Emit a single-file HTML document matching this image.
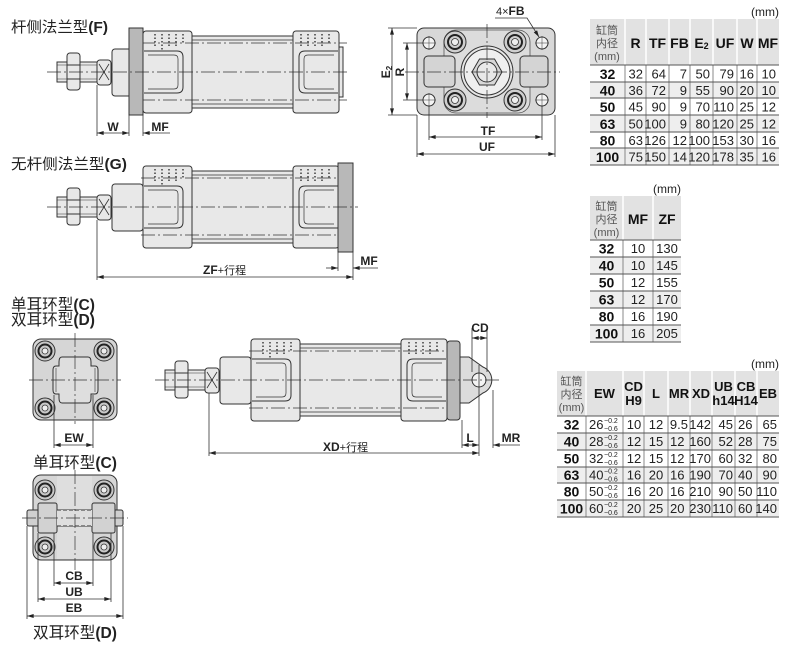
<!DOCTYPE html>
<html><head><meta charset="utf-8"><style>
html,body{margin:0;padding:0;background:#fff;}
svg{display:block;font-family:"Liberation Sans","Noto Sans CJK SC",sans-serif;}
</style></head><body>
<svg width="790" height="647" viewBox="0 0 790 647" xmlns="http://www.w3.org/2000/svg">
<defs>
<marker id="a" viewBox="0 0 10 6" refX="10" refY="3" markerWidth="7" markerHeight="4" orient="auto-start-reverse" markerUnits="userSpaceOnUse"><path d="M0,0 L10,3 L0,6 z" fill="#222"/></marker>
<g id="body" stroke="#333" stroke-width="1" fill="#e8e8e8">
  <rect x="49" y="-36" width="101" height="72"/>
  <line x1="49" y1="-32" x2="150" y2="-32" stroke-width=".7"/>
  <line x1="49" y1="32" x2="150" y2="32" stroke-width=".7"/>
  <rect x="-86" y="-10" width="42" height="20"/>
  <line x1="-86" y1="-7" x2="-46" y2="-7" stroke-width=".6"/>
  <line x1="-86" y1="7" x2="-46" y2="7" stroke-width=".6"/>
  <rect x="-76" y="-19" width="13" height="37" rx="3"/>
  <line x1="-76" y1="-7" x2="-63" y2="-7"/>
  <line x1="-76" y1="7" x2="-63" y2="7"/>
  <rect x="-46" y="-12" width="14" height="25" rx="3"/>
  <path d="M-44,-8 L-34,8 M-44,8 L-34,-8" fill="none" stroke-width=".8"/>
  <rect x="-31" y="-23" width="31" height="47" rx="3"/>
  <rect x="0" y="-41" width="49" height="82" rx="3"/>
  <path d="M1,-21 H34 Q40,-21 40,-15 V15 Q40,21 34,21 H1" fill="none"/>
  <path d="M5,-17 H31 Q35,-17 35,-13 V13 Q35,17 31,17 H5" fill="none" stroke-width=".7"/>
  <rect x="150" y="-41" width="46" height="82" rx="3"/>
  <path d="M195,-21 H162 Q156,-21 156,-15 V15 Q156,21 162,21 H195" fill="none"/>
  <path d="M191,-17 H165 Q161,-17 161,-13 V13 Q161,17 165,17 H191" fill="none" stroke-width=".7"/>
  <g stroke="#222" stroke-width="1.3" stroke-dasharray="1.5 2" fill="none">
    <line x1="12" y1="-38" x2="12" y2="-24"/><line x1="19" y1="-38" x2="19" y2="-22"/>
    <line x1="26" y1="-38" x2="26" y2="-24"/><line x1="33" y1="-38" x2="33" y2="-26"/>
    <line x1="40" y1="-38" x2="40" y2="-28"/>
    <line x1="158" y1="-38" x2="158" y2="-26"/><line x1="165" y1="-38" x2="165" y2="-24"/>
    <line x1="172" y1="-38" x2="172" y2="-24"/><line x1="179" y1="-38" x2="179" y2="-26"/>
    <line x1="186" y1="-38" x2="186" y2="-28"/>
  </g>
  <g stroke="#333" stroke-width=".7" stroke-dasharray="14 3 2 3" fill="none">
    <line x1="-2" y1="-29" x2="204" y2="-29"/>
    <line x1="-2" y1="28" x2="204" y2="28"/>
  </g>
</g>
</defs>

<!-- ============ F type side view ============ -->
<text x="11" y="32" font-size="15" fill="#222" textLength="97" lengthAdjust="spacingAndGlyphs">杆侧法兰型<tspan font-weight="bold">(F)</tspan></text>
<g transform="translate(143,72)">
  <use href="#body"/>
  <rect x="-14" y="-44" width="14" height="87" fill="#b8b8b8" stroke="#333"/>
  <rect x="196" y="-25" width="4" height="50" fill="#e8e8e8" stroke="#333"/>
  <line x1="-96" y1="0" x2="206" y2="0" stroke="#333" stroke-width=".7" stroke-dasharray="14 3 2 3"/>
</g>
<g stroke="#333" stroke-width=".8" fill="none">
  <line x1="97" y1="85" x2="97" y2="136"/>
  <line x1="129" y1="115" x2="129" y2="136"/>
  <line x1="143" y1="115" x2="143" y2="136"/>
  <line x1="97" y1="133" x2="129" y2="133" marker-start="url(#a)" marker-end="url(#a)"/>
  <line x1="143" y1="133" x2="170" y2="133" marker-start="url(#a)"/>
</g>
<text x="113" y="131" font-size="12" font-weight="bold" text-anchor="middle" fill="#222">W</text>
<text x="160" y="131" font-size="12" font-weight="bold" text-anchor="middle" fill="#222">MF</text>

<!-- ============ G type side view ============ -->
<text x="11" y="169" font-size="15" fill="#222" textLength="116" lengthAdjust="spacingAndGlyphs">无杆侧法兰型<tspan font-weight="bold">(G)</tspan></text>
<g transform="translate(143,207)">
  <use href="#body"/>
  <rect x="195" y="-44" width="15" height="89" fill="#b8b8b8" stroke="#333"/>
  <line x1="-96" y1="0" x2="215" y2="0" stroke="#333" stroke-width=".7" stroke-dasharray="14 3 2 3"/>
</g>
<g stroke="#333" stroke-width=".8" fill="none">
  <line x1="97" y1="220" x2="97" y2="280"/>
  <line x1="338" y1="252" x2="338" y2="271"/>
  <line x1="353" y1="252" x2="353" y2="280"/>
  <line x1="97" y1="277" x2="353" y2="277" marker-start="url(#a)" marker-end="url(#a)"/>
  <line x1="326" y1="268" x2="338" y2="268" marker-end="url(#a)"/>
  <line x1="353" y1="268" x2="378" y2="268" marker-start="url(#a)"/>
</g>
<text x="203" y="274" font-size="12" fill="#222"><tspan font-weight="bold">ZF</tspan><tspan font-size="11">+行程</tspan></text>
<text x="369" y="265" font-size="12" font-weight="bold" text-anchor="middle" fill="#222">MF</text>

<!-- ============ Flange front view ============ -->
<g stroke="#333" stroke-width="1">
  <rect x="417" y="28" width="138" height="87" rx="7" fill="#d8d8d8"/>
  <rect x="444" y="30" width="86" height="83" rx="12" fill="#dcdcdc" stroke="#555" stroke-width=".8"/>
  <rect x="424" y="56" width="31" height="31" rx="4" fill="#d4d4d4"/>
  <rect x="520" y="56" width="28" height="31" rx="4" fill="#d4d4d4"/>
  <circle cx="487" cy="72" r="26" fill="#e6e6e6"/>
  <circle cx="487" cy="72" r="23" fill="#efefef"/>
  <polygon points="502,72 494.5,85 479.5,85 472,72 479.5,59 494.5,59" fill="#d8d8d8"/>
  <circle cx="487" cy="72" r="10" fill="#e8e8e8"/>
  <g fill="#cfcfcf">
    <circle cx="455" cy="42" r="11"/><circle cx="515" cy="42" r="11"/>
    <circle cx="455" cy="100" r="11"/><circle cx="515" cy="100" r="11"/>
  </g>
  <g fill="none" stroke="#222" stroke-width="2">
    <circle cx="455" cy="42" r="7"/><circle cx="515" cy="42" r="7"/>
    <circle cx="455" cy="100" r="7"/><circle cx="515" cy="100" r="7"/>
  </g>
  <g fill="#eee" stroke-width=".8">
    <circle cx="455" cy="42" r="3.5"/><circle cx="515" cy="42" r="3.5"/>
    <circle cx="455" cy="100" r="3.5"/><circle cx="515" cy="100" r="3.5"/>
  </g>
  <g fill="#f4f4f4">
    <circle cx="429" cy="43" r="6"/><circle cx="542" cy="43" r="6"/>
    <circle cx="429" cy="100" r="6"/><circle cx="542" cy="100" r="6"/>
  </g>
</g>
<g stroke="#333" stroke-width=".7" fill="none">
  <line x1="405" y1="72" x2="560" y2="72" stroke-dasharray="14 3 2 3"/>
  <line x1="487" y1="24" x2="487" y2="118" stroke-dasharray="14 3 2 3"/>
  <path d="M422,43 H436 M429,36 V50 M535,43 H549 M542,36 V50 M422,100 H436 M429,93 V107 M535,100 H549 M542,93 V107" stroke-width=".5"/>
</g>
<g stroke="#333" stroke-width=".8" fill="none">
  <line x1="388" y1="28" x2="417" y2="28"/>
  <line x1="388" y1="115" x2="417" y2="115"/>
  <line x1="403" y1="43" x2="423" y2="43"/>
  <line x1="403" y1="100" x2="423" y2="100"/>
  <line x1="392" y1="28" x2="392" y2="115" marker-start="url(#a)" marker-end="url(#a)"/>
  <line x1="407" y1="43" x2="407" y2="100" marker-start="url(#a)" marker-end="url(#a)"/>
  <line x1="429" y1="106" x2="429" y2="140"/>
  <line x1="542" y1="106" x2="542" y2="140"/>
  <line x1="417" y1="115" x2="417" y2="157"/>
  <line x1="555" y1="115" x2="555" y2="157"/>
  <line x1="429" y1="137" x2="542" y2="137" marker-start="url(#a)" marker-end="url(#a)"/>
  <line x1="417" y1="154" x2="555" y2="154" marker-start="url(#a)" marker-end="url(#a)"/>
  <polyline points="495,18 527,18 539,37" marker-end="url(#a)"/>
</g>
<text transform="translate(390,72) rotate(-90)" text-anchor="middle" font-size="12" font-weight="bold" fill="#222">E<tspan font-size="8" dy="2">2</tspan></text>
<text transform="translate(404,72) rotate(-90)" text-anchor="middle" font-size="12" font-weight="bold" fill="#222">R</text>
<text x="488" y="135" text-anchor="middle" font-size="12" font-weight="bold" fill="#222">TF</text>
<text x="487" y="151" text-anchor="middle" font-size="12" font-weight="bold" fill="#222">UF</text>
<text x="496" y="15" font-size="11" fill="#222">4×<tspan font-size="12" font-weight="bold">FB</tspan></text>

<!-- ============ Clevis titles ============ -->
<text x="11" y="310" font-size="16" fill="#222" textLength="84" lengthAdjust="spacingAndGlyphs">单耳环型<tspan font-weight="bold">(C)</tspan></text>
<text x="11" y="325" font-size="16" fill="#222" textLength="84" lengthAdjust="spacingAndGlyphs">双耳环型<tspan font-weight="bold">(D)</tspan></text>

<!-- ============ C front view ============ -->
<g stroke="#333" stroke-width="1">
  <rect x="33" y="339" width="84" height="81" rx="8" fill="#d6d6d6"/>
  <path d="M62,357 H88 Q91,357 91,362 V366 H95 Q98,366 98,370 V390 Q98,394 95,394 H91 V398 Q91,403 88,403 H62 Q59,403 59,398 V394 H56 Q53,394 53,390 V370 Q53,366 56,366 H59 V362 Q59,357 62,357 Z" fill="#dedede"/>
  <line x1="56" y1="368" x2="56" y2="392" stroke-width=".6"/>
  <line x1="95" y1="368" x2="95" y2="392" stroke-width=".6"/>
  <g fill="#c8c8c8"><circle cx="45" cy="351" r="10"/><circle cx="104" cy="351" r="10"/><circle cx="45" cy="408" r="10"/><circle cx="104" cy="408" r="10"/></g>
  <g fill="none" stroke="#222" stroke-width="2"><circle cx="45" cy="351" r="6.5"/><circle cx="104" cy="351" r="6.5"/><circle cx="45" cy="408" r="6.5"/><circle cx="104" cy="408" r="6.5"/></g>
  <g fill="#eee" stroke-width=".8"><circle cx="45" cy="351" r="3"/><circle cx="104" cy="351" r="3"/><circle cx="45" cy="408" r="3"/><circle cx="104" cy="408" r="3"/></g>
</g>
<g stroke="#333" stroke-width=".7" fill="none">
  <line x1="29" y1="380" x2="121" y2="380" stroke-dasharray="14 3 2 3"/>
  <line x1="75" y1="333" x2="75" y2="424" stroke-dasharray="14 3 2 3"/>
  <line x1="54" y1="395" x2="54" y2="448" stroke-width=".8"/>
  <line x1="93" y1="395" x2="93" y2="448" stroke-width=".8"/>
  <line x1="54" y1="445" x2="93" y2="445" stroke-width=".8" marker-start="url(#a)" marker-end="url(#a)"/>
</g>
<text x="74" y="442" text-anchor="middle" font-size="12" font-weight="bold" fill="#222">EW</text>
<text x="33" y="468" font-size="16" fill="#222" textLength="84" lengthAdjust="spacingAndGlyphs">单耳环型<tspan font-weight="bold">(C)</tspan></text>

<!-- ============ D front view ============ -->
<g stroke="#333" stroke-width="1">
  <rect x="33" y="475" width="84" height="85" rx="8" fill="#d6d6d6"/>
  <rect x="57" y="476" width="35" height="83" fill="#dedede" stroke="none"/>
  <g fill="#c8c8c8"><circle cx="45" cy="490" r="10"/><circle cx="104" cy="490" r="10"/><circle cx="45" cy="547" r="10"/><circle cx="104" cy="547" r="10"/></g>
  <g fill="none" stroke="#222" stroke-width="2"><circle cx="45" cy="490" r="6.5"/><circle cx="104" cy="490" r="6.5"/><circle cx="45" cy="547" r="6.5"/><circle cx="104" cy="547" r="6.5"/></g>
  <g fill="#eee" stroke-width=".8"><circle cx="45" cy="490" r="3"/><circle cx="104" cy="490" r="3"/><circle cx="45" cy="547" r="3"/><circle cx="104" cy="547" r="3"/></g>
  <rect x="27" y="510" width="96" height="16" rx="2" fill="#d0d0d0"/>
  <rect x="38" y="503" width="19" height="30" rx="2" fill="#d2d2d2"/>
  <rect x="92" y="503" width="23" height="30" rx="2" fill="#d2d2d2"/>
  <rect x="57" y="510" width="35" height="16" fill="#dedede" stroke="none"/>
  <line x1="57" y1="510" x2="92" y2="510" stroke-dasharray="4 2"/>
  <line x1="57" y1="526" x2="92" y2="526" stroke-dasharray="4 2"/>
</g>
<g stroke="#333" stroke-width=".8" fill="none">
  <line x1="75" y1="470" x2="75" y2="570" stroke-width=".7" stroke-dasharray="14 3 2 3"/>
  <line x1="22" y1="518" x2="128" y2="518" stroke-width=".7" stroke-dasharray="14 3 2 3"/>
  <line x1="54" y1="533" x2="54" y2="586"/>
  <line x1="93" y1="533" x2="93" y2="586"/>
  <line x1="38" y1="533" x2="38" y2="602"/>
  <line x1="111" y1="533" x2="111" y2="602"/>
  <line x1="27" y1="526" x2="27" y2="619"/>
  <line x1="123" y1="526" x2="123" y2="619"/>
  <line x1="54" y1="583" x2="93" y2="583" marker-start="url(#a)" marker-end="url(#a)"/>
  <line x1="38" y1="599" x2="111" y2="599" marker-start="url(#a)" marker-end="url(#a)"/>
  <line x1="27" y1="616" x2="123" y2="616" marker-start="url(#a)" marker-end="url(#a)"/>
</g>
<text x="74" y="580" text-anchor="middle" font-size="12" font-weight="bold" fill="#222">CB</text>
<text x="74" y="596" text-anchor="middle" font-size="12" font-weight="bold" fill="#222">UB</text>
<text x="74" y="612" text-anchor="middle" font-size="12" font-weight="bold" fill="#222">EB</text>
<text x="33" y="638" font-size="16" fill="#222" textLength="84" lengthAdjust="spacingAndGlyphs">双耳环型<tspan font-weight="bold">(D)</tspan></text>

<!-- ============ Clevis side view ============ -->
<g transform="translate(251,380)">
  <use href="#body"/>
  <rect x="196" y="-39" width="13" height="79" rx="3" fill="#b8b8b8" stroke="#333"/>
  <path d="M209,-23 L218,-23 L232,-13 A14,14 0 0 1 232,13 L218,23 L209,23 Z" fill="#dcdcdc" stroke="#333"/>
  <circle cx="228" cy="0" r="7" fill="#f4f4f4" stroke="#333"/>
  <line x1="-96" y1="0" x2="250" y2="0" stroke="#333" stroke-width=".7" stroke-dasharray="14 3 2 3"/>
</g>
<g stroke="#333" stroke-width=".8" fill="none">
  <line x1="209" y1="393" x2="209" y2="456"/>
  <line x1="462" y1="420" x2="462" y2="448"/>
  <line x1="479" y1="365" x2="479" y2="456"/>
  <line x1="493" y1="390" x2="493" y2="448"/>
  <line x1="472" y1="328" x2="472" y2="372"/>
  <line x1="487" y1="328" x2="487" y2="372"/>
  <line x1="472" y1="338" x2="487" y2="338" marker-start="url(#a)" marker-end="url(#a)"/>
  <line x1="462" y1="445" x2="479" y2="445" marker-start="url(#a)" marker-end="url(#a)"/>
  <line x1="493" y1="445" x2="520" y2="445" marker-start="url(#a)"/>
  <line x1="209" y1="453" x2="479" y2="453" marker-start="url(#a)" marker-end="url(#a)"/>
</g>
<text x="480" y="332" text-anchor="middle" font-size="12" font-weight="bold" fill="#222">CD</text>
<text x="470" y="442" text-anchor="middle" font-size="12" font-weight="bold" fill="#222">L</text>
<text x="511" y="442" text-anchor="middle" font-size="12" font-weight="bold" fill="#222">MR</text>
<text x="323" y="451" font-size="12" fill="#222"><tspan font-weight="bold">XD</tspan><tspan font-size="11">+行程</tspan></text>

<!-- ============ Table 1 ============ -->
<g>
  <text x="779" y="16" text-anchor="end" font-size="12" fill="#222">(mm)</text>
  <rect x="590" y="19" width="189" height="46" fill="#e2e2e2"/>
  <rect x="590" y="82" width="189" height="16" fill="#eeeeee"/>
  <rect x="590" y="115" width="189" height="17" fill="#eeeeee"/>
  <rect x="590" y="148" width="189" height="17" fill="#eeeeee"/>
  <g stroke="#fff" stroke-width="1.5">
    <line x1="625" y1="19" x2="625" y2="65"/><line x1="646" y1="19" x2="646" y2="65"/>
    <line x1="669" y1="19" x2="669" y2="65"/><line x1="690" y1="19" x2="690" y2="65"/>
    <line x1="713" y1="19" x2="713" y2="65"/><line x1="737" y1="19" x2="737" y2="65"/>
    <line x1="757" y1="19" x2="757" y2="65"/>
  </g>
  <g stroke="#888" stroke-width="1">
    <line x1="625" y1="65" x2="625" y2="165"/><line x1="646" y1="65" x2="646" y2="165"/>
    <line x1="669" y1="65" x2="669" y2="165"/><line x1="690" y1="65" x2="690" y2="165"/>
    <line x1="713" y1="65" x2="713" y2="165"/><line x1="737" y1="65" x2="737" y2="165"/>
    <line x1="757" y1="65" x2="757" y2="165"/>
  </g>
  <g stroke="#555" stroke-width="1">
    <line x1="590" y1="65" x2="779" y2="65"/><line x1="590" y1="82" x2="779" y2="82"/>
    <line x1="590" y1="98" x2="779" y2="98"/><line x1="590" y1="115" x2="779" y2="115"/>
    <line x1="590" y1="132" x2="779" y2="132"/><line x1="590" y1="148" x2="779" y2="148"/>
    <line x1="590" y1="165" x2="779" y2="165"/>
  </g>
  <g font-size="11" fill="#555" text-anchor="middle">
    <text x="607" y="34">缸筒</text><text x="607" y="47">内径</text><text x="607" y="60">(mm)</text>
  </g>
  <g font-size="14" font-weight="bold" fill="#111" text-anchor="middle">
    <text x="635.5" y="48">R</text><text x="657.5" y="48">TF</text><text x="679.5" y="48">FB</text>
    <text x="701.5" y="48">E<tspan font-size="9" dy="1">2</tspan></text><text x="725" y="48">UF</text>
    <text x="747" y="48">W</text><text x="768" y="48">MF</text>
  </g>
  <g font-size="14" font-weight="bold" fill="#111" text-anchor="middle">
    <text x="607.5" y="79">32</text><text x="607.5" y="95.5">40</text><text x="607.5" y="112">50</text>
    <text x="607.5" y="129">63</text><text x="607.5" y="145.5">80</text><text x="607.5" y="162">100</text>
  </g>
  <g font-size="13" fill="#222" text-anchor="end">
    <text x="643" y="78.5">32</text><text x="666" y="78.5">64</text><text x="687" y="78.5">7</text><text x="710" y="78.5">50</text><text x="734" y="78.5">79</text><text x="754" y="78.5">16</text><text x="776" y="78.5">10</text>
    <text x="643" y="95">36</text><text x="666" y="95">72</text><text x="687" y="95">9</text><text x="710" y="95">55</text><text x="734" y="95">90</text><text x="754" y="95">20</text><text x="776" y="95">10</text>
    <text x="643" y="111.5">45</text><text x="666" y="111.5">90</text><text x="687" y="111.5">9</text><text x="710" y="111.5">70</text><text x="734" y="111.5">110</text><text x="754" y="111.5">25</text><text x="776" y="111.5">12</text>
    <text x="643" y="128.5">50</text><text x="666" y="128.5">100</text><text x="687" y="128.5">9</text><text x="710" y="128.5">80</text><text x="734" y="128.5">120</text><text x="754" y="128.5">25</text><text x="776" y="128.5">12</text>
    <text x="643" y="145">63</text><text x="666" y="145">126</text><text x="687" y="145">12</text><text x="710" y="145">100</text><text x="734" y="145">153</text><text x="754" y="145">30</text><text x="776" y="145">16</text>
    <text x="643" y="161.5">75</text><text x="666" y="161.5">150</text><text x="687" y="161.5">14</text><text x="710" y="161.5">120</text><text x="734" y="161.5">178</text><text x="754" y="161.5">35</text><text x="776" y="161.5">16</text>
  </g>
</g>

<!-- ============ Table 2 ============ -->
<g>
  <text x="681" y="193" text-anchor="end" font-size="12" fill="#222">(mm)</text>
  <rect x="590" y="196" width="91" height="44" fill="#e2e2e2"/>
  <rect x="590" y="257" width="91" height="17" fill="#eeeeee"/>
  <rect x="590" y="291" width="91" height="17" fill="#eeeeee"/>
  <rect x="590" y="325" width="91" height="17" fill="#eeeeee"/>
  <g stroke="#fff" stroke-width="1.5">
    <line x1="623" y1="196" x2="623" y2="240"/><line x1="653" y1="196" x2="653" y2="240"/>
  </g>
  <g stroke="#888"><line x1="623" y1="240" x2="623" y2="342"/><line x1="653" y1="240" x2="653" y2="342"/></g>
  <g stroke="#555">
    <line x1="590" y1="240" x2="681" y2="240"/><line x1="590" y1="257" x2="681" y2="257"/>
    <line x1="590" y1="274" x2="681" y2="274"/><line x1="590" y1="291" x2="681" y2="291"/>
    <line x1="590" y1="308" x2="681" y2="308"/><line x1="590" y1="325" x2="681" y2="325"/>
    <line x1="590" y1="342" x2="681" y2="342"/>
  </g>
  <g font-size="11" fill="#555" text-anchor="middle">
    <text x="606.5" y="210">缸筒</text><text x="606.5" y="223">内径</text><text x="606.5" y="236">(mm)</text>
  </g>
  <g font-size="14" font-weight="bold" fill="#111" text-anchor="middle">
    <text x="638" y="224">MF</text><text x="667" y="224">ZF</text>
    <text x="606.5" y="253.5">32</text><text x="606.5" y="270.5">40</text><text x="606.5" y="287.5">50</text>
    <text x="606.5" y="304.5">63</text><text x="606.5" y="321.5">80</text><text x="606.5" y="338.5">100</text>
  </g>
  <g font-size="13" fill="#222" text-anchor="middle">
    <text x="638" y="253">10</text><text x="667" y="253">130</text>
    <text x="638" y="270">10</text><text x="667" y="270">145</text>
    <text x="638" y="287">12</text><text x="667" y="287">155</text>
    <text x="638" y="304">12</text><text x="667" y="304">170</text>
    <text x="638" y="321">16</text><text x="667" y="321">190</text>
    <text x="638" y="338">16</text><text x="667" y="338">205</text>
  </g>
</g>

<!-- ============ Table 3 ============ -->
<g>
  <text x="779" y="368" text-anchor="end" font-size="12" fill="#222">(mm)</text>
  <rect x="557" y="371" width="222" height="45" fill="#e2e2e2"/>
  <rect x="557" y="433" width="222" height="17" fill="#eeeeee"/>
  <rect x="557" y="467" width="222" height="16" fill="#eeeeee"/>
  <rect x="557" y="500" width="222" height="17" fill="#eeeeee"/>
  <g stroke="#fff" stroke-width="1.5">
    <line x1="586" y1="371" x2="586" y2="416"/><line x1="623" y1="371" x2="623" y2="416"/>
    <line x1="644" y1="371" x2="644" y2="416"/><line x1="668" y1="371" x2="668" y2="416"/>
    <line x1="690" y1="371" x2="690" y2="416"/><line x1="712" y1="371" x2="712" y2="416"/>
    <line x1="735" y1="371" x2="735" y2="416"/><line x1="757" y1="371" x2="757" y2="416"/>
  </g>
  <g stroke="#888">
    <line x1="586" y1="416" x2="586" y2="517"/><line x1="623" y1="416" x2="623" y2="517"/>
    <line x1="644" y1="416" x2="644" y2="517"/><line x1="668" y1="416" x2="668" y2="517"/>
    <line x1="690" y1="416" x2="690" y2="517"/><line x1="712" y1="416" x2="712" y2="517"/>
    <line x1="735" y1="416" x2="735" y2="517"/><line x1="757" y1="416" x2="757" y2="517"/>
  </g>
  <g stroke="#555">
    <line x1="557" y1="416" x2="779" y2="416"/><line x1="557" y1="433" x2="779" y2="433"/>
    <line x1="557" y1="450" x2="779" y2="450"/><line x1="557" y1="467" x2="779" y2="467"/>
    <line x1="557" y1="483" x2="779" y2="483"/><line x1="557" y1="500" x2="779" y2="500"/>
    <line x1="557" y1="517" x2="779" y2="517"/>
  </g>
  <g font-size="11" fill="#555" text-anchor="middle">
    <text x="571.5" y="385">缸筒</text><text x="571.5" y="398">内径</text><text x="571.5" y="411">(mm)</text>
  </g>
  <g font-size="13" font-weight="bold" fill="#111" text-anchor="middle">
    <text x="604.5" y="398">EW</text>
    <text x="633.5" y="391">CD</text><text x="633.5" y="405">H9</text>
    <text x="656" y="398">L</text><text x="679" y="398">MR</text><text x="701" y="398">XD</text>
    <text x="723.5" y="391">UB</text><text x="723.5" y="405">h14</text>
    <text x="746" y="391">CB</text><text x="746" y="405">H14</text>
    <text x="768" y="398">EB</text>
  </g>
  <g font-size="14" font-weight="bold" fill="#111" text-anchor="middle">
    <text x="571.5" y="429.5">32</text><text x="571.5" y="446.5">40</text><text x="571.5" y="463.5">50</text>
    <text x="571.5" y="480">63</text><text x="571.5" y="496.5">80</text><text x="571.5" y="513.5">100</text>
  </g>
  <g font-size="13" fill="#222">
    <text x="589" y="429">26</text><text x="589" y="446">28</text><text x="589" y="463">32</text>
    <text x="589" y="479.5">40</text><text x="589" y="496">50</text><text x="589" y="513">60</text>
  </g>
  <g font-size="7" fill="#222">
    <text x="604" y="423">−0.2</text><text x="604" y="431">−0.6</text>
    <text x="604" y="440">−0.2</text><text x="604" y="448">−0.6</text>
    <text x="604" y="457">−0.2</text><text x="604" y="465">−0.6</text>
    <text x="604" y="473.5">−0.2</text><text x="604" y="481.5">−0.6</text>
    <text x="604" y="490">−0.2</text><text x="604" y="498">−0.6</text>
    <text x="604" y="507">−0.2</text><text x="604" y="515">−0.6</text>
  </g>
  <g font-size="13" fill="#222" text-anchor="middle">
    <text x="634" y="429">10</text><text x="656" y="429">12</text>
    <text x="634" y="446">12</text><text x="656" y="446">15</text>
    <text x="634" y="463">12</text><text x="656" y="463">15</text>
    <text x="634" y="479.5">16</text><text x="656" y="479.5">20</text>
    <text x="634" y="496">16</text><text x="656" y="496">20</text>
    <text x="634" y="513">20</text><text x="656" y="513">25</text>
  </g>
  <g font-size="13" fill="#222">
    <text x="688" y="429" text-anchor="end">9.5</text>
    <text x="670" y="446">12</text><text x="670" y="463">12</text><text x="670" y="479.5">16</text>
    <text x="670" y="496">16</text><text x="670" y="513">20</text>
  </g>
  <g font-size="13" fill="#222" text-anchor="end">
    <text x="711" y="429">142</text><text x="733" y="429">45</text><text x="777" y="429">65</text>
    <text x="711" y="446">160</text><text x="733" y="446">52</text><text x="777" y="446">75</text>
    <text x="711" y="463">170</text><text x="733" y="463">60</text><text x="777" y="463">80</text>
    <text x="711" y="479.5">190</text><text x="733" y="479.5">70</text><text x="777" y="479.5">90</text>
    <text x="711" y="496">210</text><text x="733" y="496">90</text><text x="777" y="496">110</text>
    <text x="711" y="513">230</text><text x="733" y="513">110</text><text x="777" y="513">140</text>
  </g>
  <g font-size="13" fill="#222">
    <text x="738" y="429">26</text><text x="738" y="446">28</text><text x="738" y="463">32</text>
    <text x="738" y="479.5">40</text><text x="738" y="496">50</text><text x="738" y="513">60</text>
  </g>
</g>
</svg>
</body></html>
